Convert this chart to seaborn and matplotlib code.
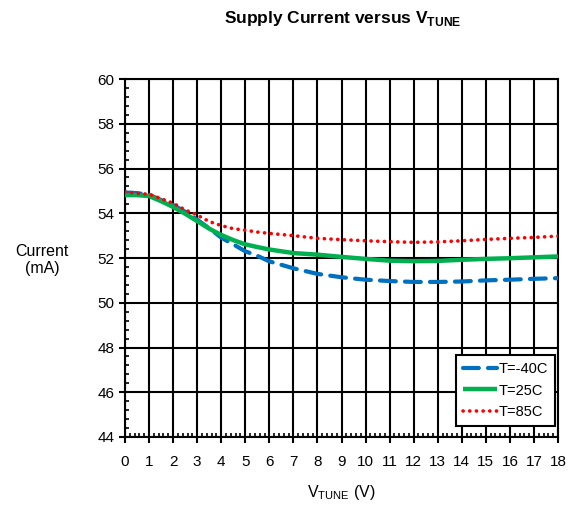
import matplotlib
matplotlib.use("Agg")
import numpy as np
import pandas as pd
import seaborn as sns
import matplotlib.pyplot as plt
from matplotlib import font_manager as fm
from matplotlib.ticker import MultipleLocator

# ---- data ----
vtune = [0, 0.5, 1, 1.5, 2, 2.5, 3, 3.5, 4, 4.5, 5, 5.5, 6, 7, 8, 9, 10,
         11, 12, 13, 14, 15, 16, 17, 18]
i_m40 = [54.93, 54.90, 54.83, 54.59, 54.37, 54.07, 53.71, 53.33, 52.91, 52.61,
         52.30, 52.10, 51.85, 51.54, 51.29, 51.14, 51.03, 50.97, 50.93, 50.93,
         50.95, 51.00, 51.03, 51.07, 51.10]
i_25 = [54.81, 54.81, 54.77, 54.54, 54.28, 53.98, 53.65, 53.31, 53.03, 52.80,
        52.61, 52.49, 52.38, 52.22, 52.15, 52.05, 51.96, 51.88, 51.86, 51.87,
        51.92, 51.96, 51.99, 52.03, 52.07]
i_85 = [54.96, 54.89, 54.85, 54.65, 54.45, 54.15, 53.92, 53.63, 53.45, 53.31,
        53.24, 53.16, 53.10, 53.00, 52.88, 52.82, 52.77, 52.73, 52.70, 52.72,
        52.77, 52.83, 52.88, 52.92, 52.98]
series_labels = ["T=-40C", "T=25C", "T=85C"]
x_ticks = list(range(0, 19))
y_ticks = list(range(44, 61, 2))

sns.set_theme(style="white")

names = {f.name for f in fm.fontManager.ttflist}
if "Liberation Sans Narrow" in names:
    fam = "Liberation Sans Narrow"
else:
    fam = "Liberation Sans"
plt.rcParams["font.family"] = [fam, "DejaVu Sans"]
plt.rcParams["mathtext.fontset"] = "custom"
plt.rcParams["mathtext.rm"] = fam
plt.rcParams["text.color"] = "black"
plt.rcParams["axes.labelcolor"] = "black"

fig = plt.figure(figsize=(5.69, 5.08), dpi=100)
ax = fig.add_axes([125 / 569, 1 - 437 / 508, 433 / 569, 358 / 508])

df = pd.DataFrame({"V": vtune * 3,
                   "I": i_m40 + i_25 + i_85,
                   "T": [series_labels[0]] * len(vtune) + [series_labels[1]] * len(vtune)
                        + [series_labels[2]] * len(vtune)})

styles = {
    series_labels[0]: dict(color="#0070C0", lw=3.0, ls=(0, (3.8, 2.2)), cap="round"),
    series_labels[1]: dict(color="#00B050", lw=3.2, ls="-", cap="round"),
    series_labels[2]: dict(color="#FF0000", lw=2.6, ls=(0, (0.05, 1.8)), cap="round"),
}
for lab in series_labels:
    st = styles[lab]
    sub = df[df["T"] == lab]
    sns.lineplot(data=sub, x="V", y="I", ax=ax, color=st["color"], lw=st["lw"],
                 label=lab, zorder=5)
    ln = ax.lines[-1]
    ln.set_linestyle(st["ls"])
    ln.set_dash_capstyle(st["cap"])
    ln.set_solid_capstyle("butt")

ax.set_xlim(0, 18)
ax.set_ylim(44, 60)
ax.set_xticks(x_ticks)
ax.set_yticks(y_ticks)
ax.xaxis.set_minor_locator(MultipleLocator(0.2))
ax.yaxis.set_minor_locator(MultipleLocator(0.4))
ax.grid(True, which="major", color="black", lw=1.5, zorder=1)
ax.set_axisbelow(True)
for s in ax.spines.values():
    s.set_color("black")
    s.set_linewidth(1.5)
ax.tick_params(which="major", direction="out", length=4.5, width=1.5, color="black",
               labelsize=11, labelcolor="black", bottom=True, left=True)
ax.tick_params(axis="x", which="major", pad=8.5)
ax.tick_params(axis="y", which="major", pad=3)
ax.tick_params(which="minor", direction="in", length=2.8, width=1.2, color="black",
               bottom=True, left=True, top=False, right=False)
ax.set_xlabel("")
ax.set_ylabel("")

leg = ax.legend(loc="upper left", bbox_to_anchor=(0.764, 0.229), borderaxespad=0,
                fontsize=10.5, frameon=True, fancybox=False, handlelength=2.3,
                handletextpad=0.15, borderpad=0.5, labelspacing=0.5)
leg.get_frame().set_edgecolor("black")
leg.get_frame().set_linewidth(1.5)
leg.get_frame().set_alpha(1)
leg.set_zorder(10)
for t in leg.get_texts():
    t.set_color("black")

fig.text(343 / 569, 1 - 18 / 508, r"Supply Current versus V$_{\mathregular{TUNE}}$",
         ha="center", va="center", fontsize=12.5, fontweight="bold")
fig.text(42 / 569, 1 - 260 / 508, "Current\n(mA)", ha="center", va="center",
         fontsize=11.5, linespacing=1.2)
fig.text(341 / 569, 1 - 492 / 508, r"V$_{\mathregular{TUNE}}$ (V)", ha="center",
         va="center", fontsize=11.5)

fig.savefig("out.png", dpi=100)
